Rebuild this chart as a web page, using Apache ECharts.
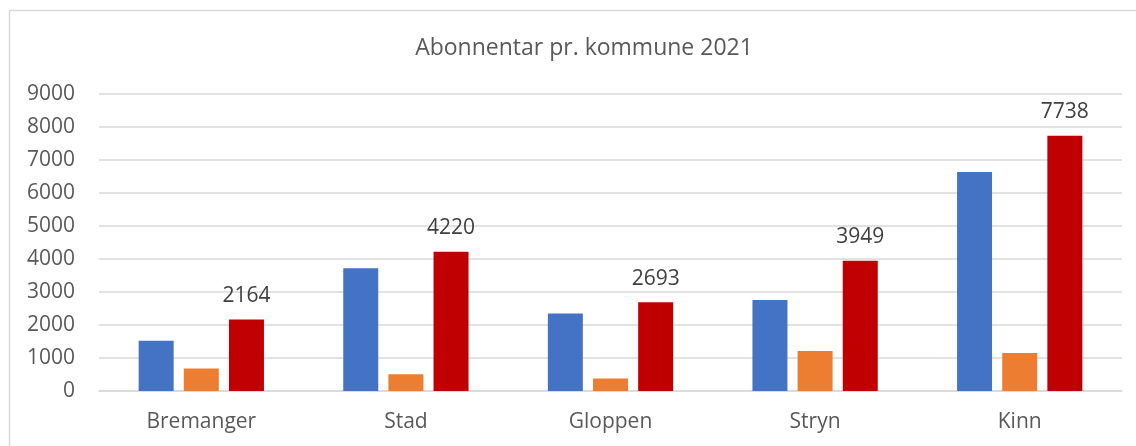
<!DOCTYPE html>
<html>
<head>
<meta charset="utf-8">
<script src="https://cdn.jsdelivr.net/npm/echarts@6/dist/echarts.min.js"></script>
<style>
  html, body { margin: 0; padding: 0; background: #fff; }
  #chart { width: 1136px; height: 446px; }
</style>
</head>
<body>
<div id="chart"></div>
<script>
var kommunar = ['Bremanger', 'Stad', 'Gloppen', 'Stryn', 'Kinn'];
var serieBla = [1520, 3720, 2350, 2760, 6640];
var serieOransje = [680, 510, 380, 1215, 1155];
var serieRaud = [2164, 4220, 2693, 3949, 7738];

var chart = echarts.init(document.getElementById('chart'));
var fontName = '"Open Sans", "Noto Sans", sans-serif';

var option = {
    animation: false,
    textStyle: { fontFamily: fontName },
    title: {
        text: 'Abonnentar pr. kommune 2021',
        left: 579,
        top: 32,
        textAlign: 'center',
        textStyle: { fontSize: 23, fontWeight: 'normal', color: '#595959', fontFamily: fontName }
    },
    graphic: [{
        type: 'rect',
        shape: { x: 9.5, y: 10.5, width: 1140, height: 450 },
        style: { fill: 'none', stroke: '#D9D9D9', lineWidth: 1.5 },
        silent: true
    }],
    grid: { left: 99, right: 14, top: 94, bottom: 55 },
    xAxis: {
        type: 'category',
        data: kommunar,
        axisLine: { lineStyle: { color: '#D9D9D9', width: 1.5 } },
        axisTick: { show: false },
        axisLabel: { color: '#595959', fontSize: 21, margin: 21, fontFamily: fontName }
    },
    yAxis: {
        type: 'value',
        min: 0,
        max: 9000,
        interval: 1000,
        axisLine: { show: false },
        axisTick: { show: false },
        splitLine: { lineStyle: { color: '#D9D9D9', width: 1.5 } },
        axisLabel: {
            color: '#595959',
            fontSize: 21,
            margin: 24,
            fontFamily: fontName,
            formatter: function (v) { return String(v); }
        }
    },
    series: [
        {
            type: 'bar',
            data: serieBla,
            barWidth: 35,
            barGap: '29%',
            itemStyle: { color: '#4472C4' }
        },
        {
            type: 'bar',
            data: serieOransje,
            barWidth: 35,
            barGap: '29%',
            itemStyle: { color: '#ED7D31' }
        },
        {
            type: 'bar',
            data: serieRaud,
            barWidth: 35,
            barGap: '29%',
            itemStyle: { color: '#C00000' },
            label: {
                show: true,
                position: 'top',
                distance: 13,
                color: '#404040',
                fontSize: 21,
                fontFamily: fontName
            }
        }
    ]
};

chart.setOption(option);
</script>
</body>
</html>
